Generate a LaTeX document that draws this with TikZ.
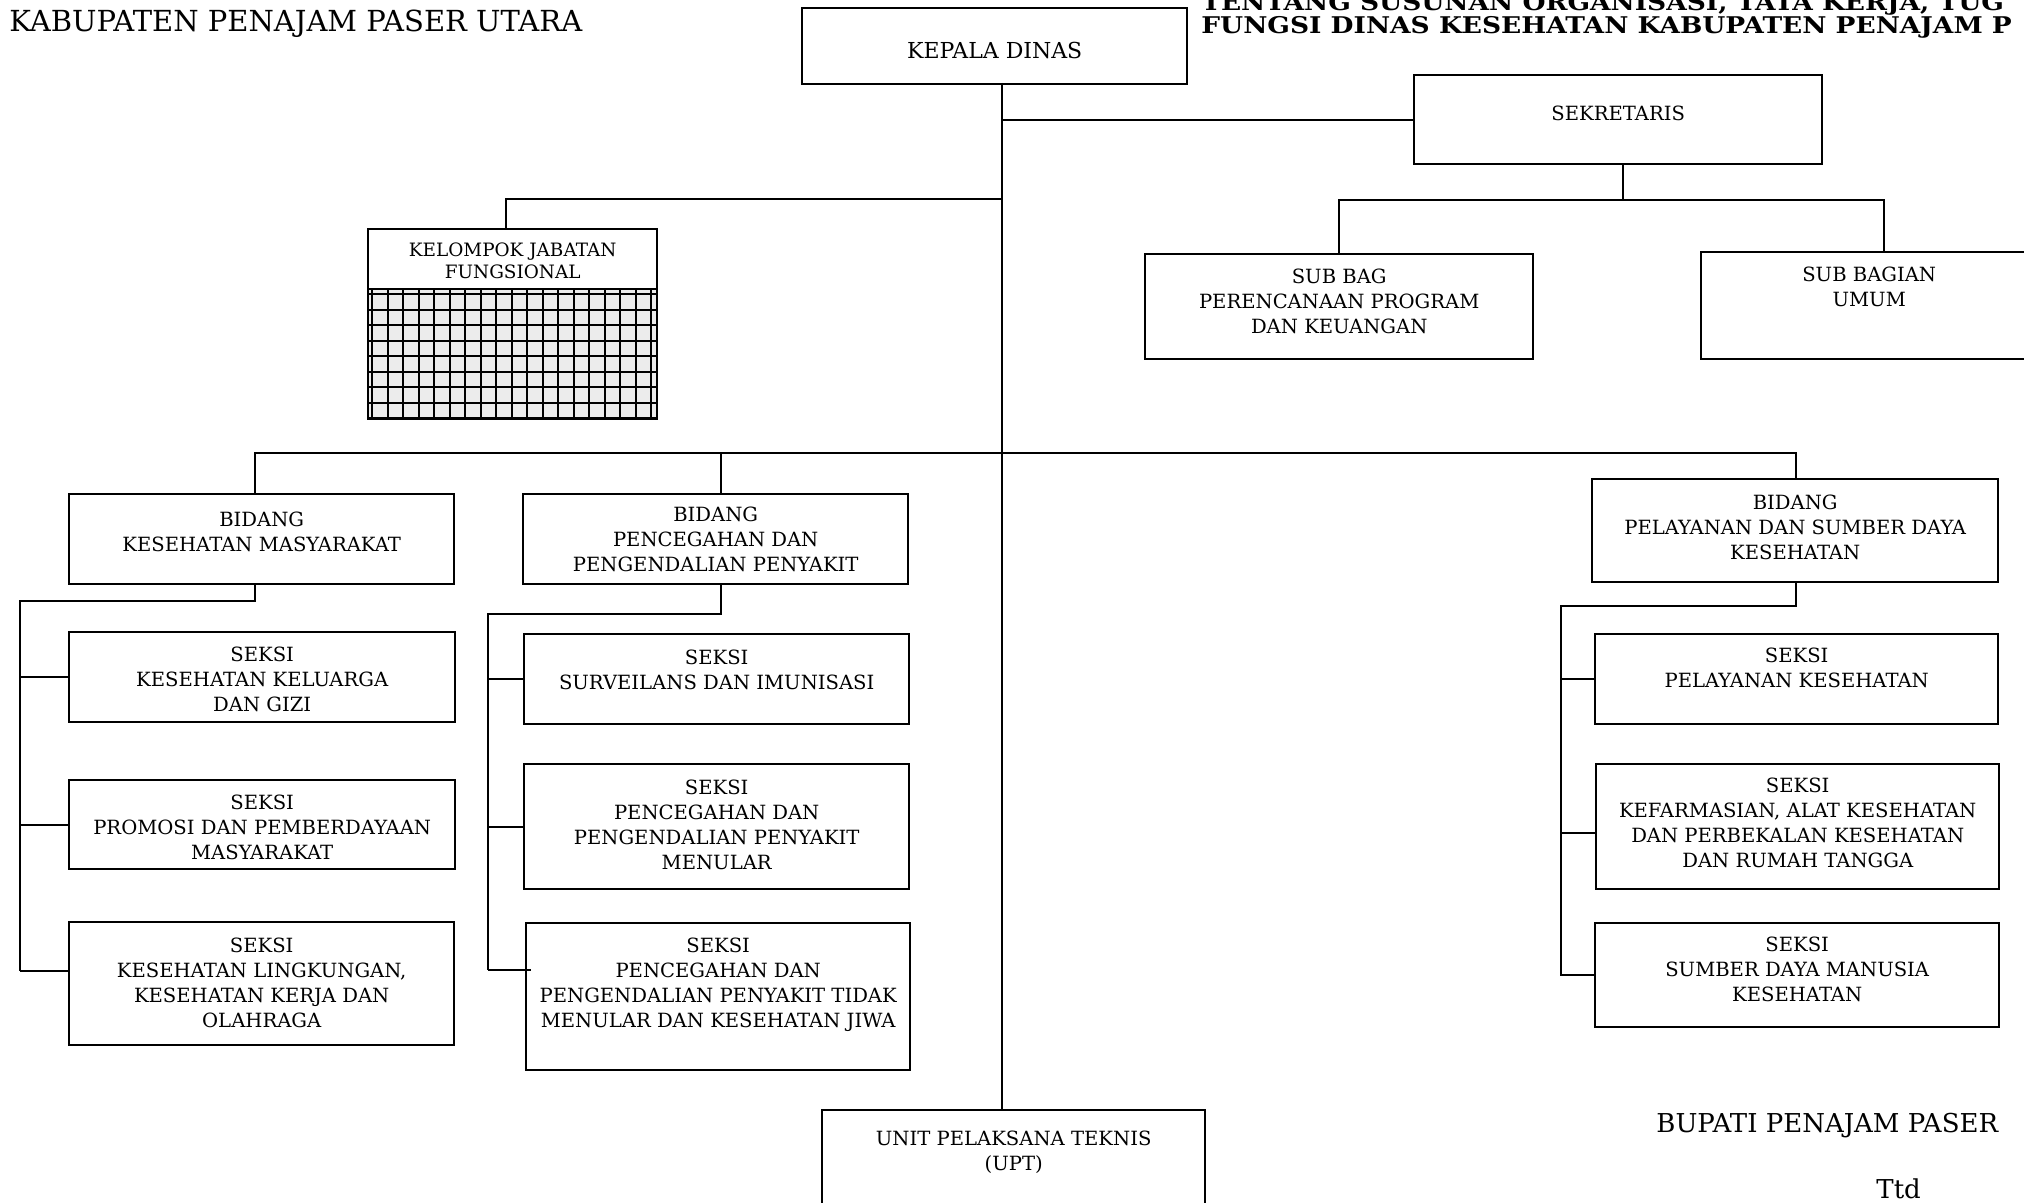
\documentclass[tikz,border=0pt]{standalone}
\usepackage{fontspec}
\setmainfont{DejaVu Serif}
\newfontfamily\headfamily[FakeStretch=1.15]{DejaVu Serif}
\usetikzlibrary{backgrounds}
\newcommand\unitfont{\fontsize{9.8}{12.4}\selectfont}
\newcommand\headfont{\headfamily\fontsize{11.5}{11}\selectfont\bfseries}
\tikzset{
  unit/.style={draw, line width=1.2pt, inner sep=0pt, anchor=north west},
  unitlabel/.style={anchor=north, align=center, inner sep=0pt, font=\unitfont, yshift=-#1},
  unitlabel/.default=8pt,
  freetext/.style={anchor=base west, inner sep=0pt},
  link/.style={line width=1pt},
}
\begin{document}
\begin{tikzpicture}[x=0.5pt,y=0.5pt,yscale=-1,xscale=1]
\useasboundingbox (0,0) rectangle (2024,1203);
\clip (0,0) rectangle (2024,1203);

% Text Node
\node [freetext, font=\fontsize{14.5}{17}\selectfont] (kabupaten) at (9,32) {KABUPATEN PENAJAM PASER UTARA};
% Text Node
\node [freetext, font=\headfont] (judulatas) at (1201,11) {TENTANG SUSUNAN ORGANISASI, TATA KERJA, TUG};
% Text Node
\node [freetext, font=\headfont] (judul) at (1201,34) {FUNGSI DINAS KESEHATAN KABUPATEN PENAJAM P};

%Shape: Rectangle [kepala dinas]
\node [unit, minimum width=192.5pt, minimum height=38pt, label={[unitlabel=17.5pt, font=\fontsize{11}{13}\selectfont]north:KEPALA DINAS}] (kepala) at (801,7) {};
%Shape: Rectangle [sekretaris]
\node [unit, minimum width=204pt, minimum height=44.5pt, label={[unitlabel=16pt]north:SEKRETARIS}] (sekretaris) at (1413,74) {};
%Shape: Rectangle [kelompok jabatan fungsional]
\node [unit, minimum width=144.5pt, minimum height=95pt, label={[unitlabel=7pt, font=\fontsize{9.2}{11}\selectfont]north:{KELOMPOK JABATAN\\FUNGSIONAL}}] (kelompok) at (367,228) {};
%Shape: Rectangle [sub bagian]
\node [unit, minimum width=194pt, minimum height=52.5pt, label={[unitlabel]north:{SUB BAG\\PERENCANAAN PROGRAM\\DAN KEUANGAN}}] (subbag) at (1144,253) {};
\node [unit, minimum width=168pt, minimum height=53.5pt, label={[unitlabel]north:{SUB BAGIAN\\UMUM}}] (umum) at (1700,251) {};

%Shape: Rectangle [bidang]
\node [unit, minimum width=192.5pt, minimum height=45pt, label={[unitlabel=9.5pt]north:{BIDANG\\KESEHATAN MASYARAKAT}}] (kesmas) at (68,493) {};
\node [unit, minimum width=192.5pt, minimum height=45pt, label={[unitlabel=7pt]north:{BIDANG\\PENCEGAHAN DAN\\PENGENDALIAN PENYAKIT}}] (p2p) at (522,493) {};
\node [unit, minimum width=203pt, minimum height=51.5pt, label={[unitlabel=8.5pt]north:{BIDANG\\PELAYANAN DAN SUMBER DAYA\\KESEHATAN}}] (pelayanan) at (1591,478) {};

%Shape: Rectangle [seksi kesehatan masyarakat]
\node [unit, minimum width=193pt, minimum height=45pt, label={[unitlabel]north:{SEKSI\\KESEHATAN KELUARGA\\DAN GIZI}}] (keluarga) at (68,631) {};
\node [unit, minimum width=193pt, minimum height=44.5pt, label={[unitlabel]north:{SEKSI\\PROMOSI DAN PEMBERDAYAAN\\MASYARAKAT}}] (promosi) at (68,779) {};
\node [unit, minimum width=192.5pt, minimum height=61.5pt, label={[unitlabel=8.5pt]north:{SEKSI\\KESEHATAN LINGKUNGAN,\\KESEHATAN KERJA DAN\\OLAHRAGA}}] (lingkungan) at (68,921) {};

%Shape: Rectangle [seksi pencegahan]
\node [unit, minimum width=192.5pt, minimum height=45pt, label={[unitlabel=8.5pt]north:{SEKSI\\SURVEILANS DAN IMUNISASI}}] (surveilans) at (523,633) {};
\node [unit, minimum width=192.5pt, minimum height=62.5pt, label={[unitlabel=8.5pt]north:{SEKSI\\PENCEGAHAN DAN\\PENGENDALIAN PENYAKIT\\MENULAR}}] (p2pm) at (523,763) {};
\node [unit, minimum width=192pt, minimum height=73.5pt, label={[unitlabel]north:{SEKSI\\PENCEGAHAN DAN\\PENGENDALIAN PENYAKIT TIDAK\\MENULAR DAN KESEHATAN JIWA}}] (ptm) at (525,922) {};

%Shape: Rectangle [seksi pelayanan]
\node [unit, minimum width=201.5pt, minimum height=45pt, label={[unitlabel=7.5pt]north:{SEKSI\\PELAYANAN KESEHATAN}}] (pelkes) at (1594,633) {};
\node [unit, minimum width=201.5pt, minimum height=62.5pt, label={[unitlabel=7.5pt]north:{SEKSI\\KEFARMASIAN, ALAT KESEHATAN\\DAN PERBEKALAN KESEHATAN\\DAN RUMAH TANGGA}}] (farmasi) at (1595,763) {};
\node [unit, minimum width=202pt, minimum height=52pt, label={[unitlabel=7.5pt]north:{SEKSI\\SUMBER DAYA MANUSIA\\KESEHATAN}}] (sdm) at (1594,922) {};

%Shape: Rectangle [upt]
\node [unit, minimum width=191.5pt, minimum height=65pt, label={[unitlabel=11pt]north:{UNIT PELAKSANA TEKNIS\\(UPT)}}] (upt) at (821,1109) {};

% Text Node
\node [freetext, font=\fontsize{13}{15}\selectfont] (bupati) at (1656,1132) {BUPATI PENAJAM PASER};
% Text Node
\node [freetext, font=\fontsize{13}{15}\selectfont] (ttd) at (1876,1198) {Ttd};

% grid of kelompok jabatan fungsional
\coordinate (kfsplit) at (367,289);
\begin{scope}[on background layer]
\fill [white] (0,0) rectangle (2024,1203);
\fill [gray!15] (kfsplit) rectangle (kelompok.south east);
\clip (kfsplit) rectangle (kelompok.south east);
\draw [line width=1pt, step=7.75pt] (kfsplit) grid (kelompok.south east);
\end{scope}
\draw [link] (kfsplit) -- (kfsplit -| kelompok.east);

% Connector: trunk
\coordinate (trunk) at (1002,83);
\draw [link] (trunk) -- (trunk |- upt.north);
\draw [link] (trunk |- sekretaris.west) -- (sekretaris.west);
% Connector: kelompok
\coordinate (kfjoint) at (506,199);
\draw [link] (trunk |- kfjoint) -- (kfjoint) -- (kfjoint |- kelompok.north);
% Connector: sekretaris
\coordinate (sekjoint) at (1623,200);
\coordinate (umjoint) at (1884,200);
\draw [link] (sekjoint |- sekretaris.south) -- (sekjoint);
\draw [link] (subbag.north) |- (umjoint) -- (umjoint |- umum.north);

% Connector: bidang
\coordinate (kmjoint) at (255,453);
\coordinate (ppjoint) at (721,453);
\coordinate (psjoint) at (1796,453);
\draw [link] (kmjoint |- kesmas.north) -- (kmjoint) -- (psjoint) -- (psjoint |- pelayanan.north);
\draw [link] (ppjoint) -- (ppjoint |- p2p.north);

% Connector: seksi kesehatan masyarakat
\coordinate (kmspine) at (20,601);
\coordinate (kmend) at (20,971);
\draw [link] (kmjoint |- kesmas.south) |- (kmspine) -- (kmend);
\draw [link] (kmspine |- keluarga.west) -- (keluarga.west);
\draw [link] (kmspine |- promosi.west) -- (promosi.west);
\draw [link] (kmend) -- (kmend -| lingkungan.west);

% Connector: seksi pencegahan
\coordinate (ppspine) at (488,614);
\coordinate (ppend) at (488,970);
\draw [link] (ppjoint |- p2p.south) |- (ppspine) -- (ppend);
\draw [link] (ppspine |- surveilans.west) -- (surveilans.west);
\draw [link] (ppspine |- p2pm.west) -- (p2pm.west);
\draw [link] (ppend) -- (ppend -| ptm.west) -- ++(3pt,0);

% Connector: seksi pelayanan
\coordinate (psspine) at (1561,606);
\coordinate (fmbranch) at (1561,833);
\draw [link] (psjoint |- pelayanan.south) |- (psspine) -- (psspine |- sdm.west) -- (sdm.west);
\draw [link] (psspine |- pelkes.west) -- (pelkes.west);
\draw [link] (fmbranch) -- (fmbranch -| farmasi.west);

\end{tikzpicture}
\end{document}
